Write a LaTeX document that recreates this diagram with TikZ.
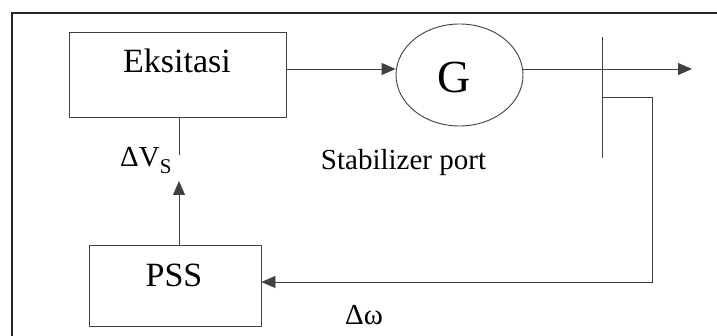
\documentclass[tikz,border=0pt]{standalone}
\usepackage{fontspec}
\setmainfont{Liberation Serif}
\usetikzlibrary{shapes.geometric,arrows.meta}
\begin{document}
\begin{tikzpicture}[x=1pt,y=-1pt,
  ln/.style={line width=0.9pt,draw=black!75},
  arr/.style={ln,-{Triangle[length=14pt,width=12pt]}},
  blk/.style={ln,rectangle,inner sep=0pt},
  big/.style={font=\fontsize{34}{40}\selectfont,inner sep=0pt},
  sml/.style={font=\fontsize{29}{34}\selectfont,inner sep=0pt}]
\useasboundingbox (0,0) rectangle (717,336);
\fill[white] (0,0) rectangle (717,336);
% frame
\draw[line width=1.2pt,black!85] (12,340) -- (12,13) -- (720,13);
% blocks
\node[blk,minimum width=217pt,minimum height=85pt] (exc) at (177.5,74.5) {};
\node[big,anchor=base] (exct) at (177,73) {Eksitasi};
\node[ln,ellipse,minimum width=127pt,minimum height=102pt,inner sep=0pt] (gen) at (459.5,75) {};
\node[font=\fontsize{46}{52}\selectfont,inner sep=0pt,anchor=base] (gent) at (454,93) {G};
\node[blk,minimum width=172pt,minimum height=81pt] (pss) at (175,285.5) {};
\node[big,anchor=base] (psst) at (174,287) {PSS};
% coordinates
\coordinate (y1) at (0,69);
\coordinate (out) at (692,69);
\coordinate (bt) at (602,37);
\coordinate (bb) at (602,158);
\coordinate (tap) at (602,97);
\coordinate (fc) at (652,97);
\coordinate (fb) at (652,282);
\coordinate (vs1) at (179,155);
\coordinate (vs2) at (179,181);
% connectors
\draw[arr] (exc.east |- y1) -- (gen.west |- y1);
\draw[arr] (gen.east |- y1) -- (out);
\draw[ln] (bt) -- (bb);
\draw[arr] (tap) -- (fc) -- (fb) -- (pss.east |- fb);
\draw[ln] (exc.south -| vs1) -- (vs1);
\draw[arr] (pss.north -| vs2) -- (vs2);
% labels
\node[sml,anchor=base west] (dvs) at (120,167) {ΔV\raisebox{-0.22em}{\fontsize{21}{24}\selectfont S}};
\node[sml,anchor=base] (stab) at (403.5,170) {Stabilizer port};
\node[sml,anchor=base west] (dw) at (345,325) {Δω};
\end{tikzpicture}
\end{document}
